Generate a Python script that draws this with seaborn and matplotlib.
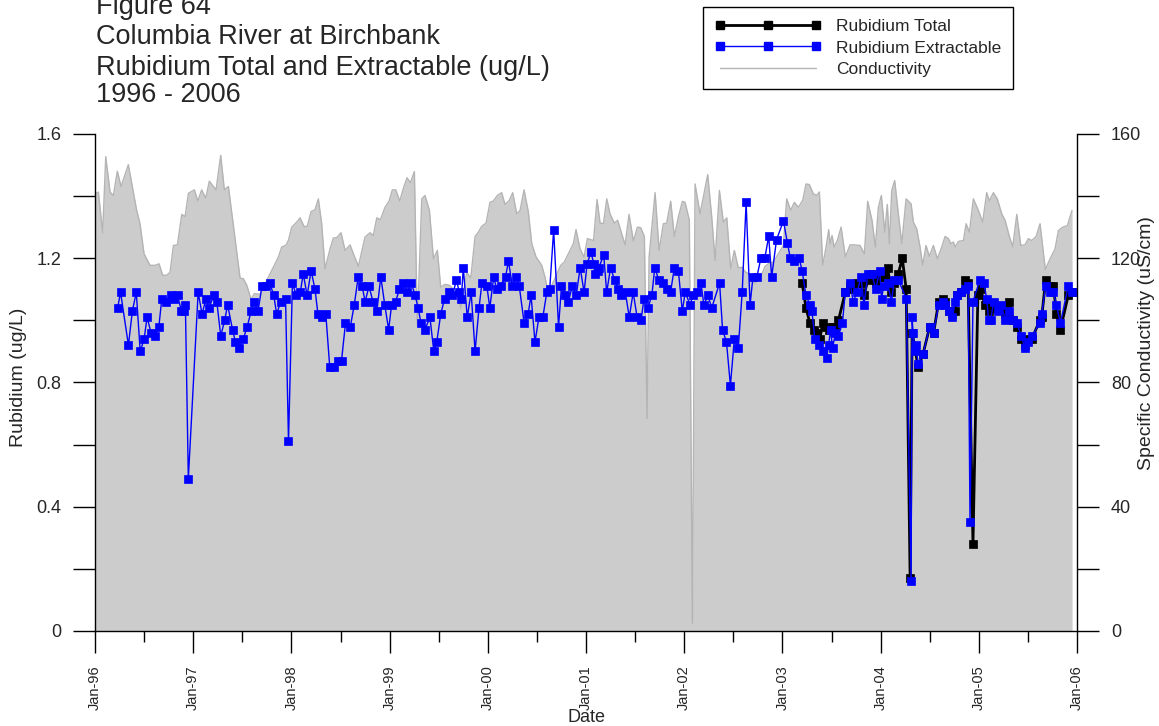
import numpy as np
import pandas as pd
from matplotlib import pyplot as plt
from matplotlib.lines import Line2D
from matplotlib.ticker import FixedLocator, FixedFormatter
import seaborn as sns

sns.set_style('ticks')
plt.rcParams['font.family'] = ['Liberation Sans', 'DejaVu Sans']

# Rubidium extractable (ug/L), sample dates as decimal years
ext_year = [1996.23, 1996.26, 1996.34, 1996.38, 1996.42, 1996.46, 1996.50, 1996.53, 1996.57, 1996.61,
            1996.65, 1996.68, 1996.72, 1996.77, 1996.80, 1996.84, 1996.88, 1996.91, 1996.92, 1996.95,
            1997.05, 1997.09, 1997.13, 1997.16, 1997.21, 1997.24, 1997.28, 1997.32, 1997.35, 1997.40,
            1997.43, 1997.47, 1997.51, 1997.55, 1997.59, 1997.62, 1997.66,
            1997.70, 1997.74, 1997.78, 1997.82, 1997.85, 1997.89, 1997.94, 1997.97, 1998.01, 1998.05,
            1998.09, 1998.12, 1998.16, 1998.20, 1998.24, 1998.27, 1998.31, 1998.35, 1998.39, 1998.43,
            1998.47, 1998.51, 1998.55, 1998.60, 1998.64, 1998.68, 1998.72, 1998.75, 1998.79, 1998.83,
            1998.87, 1998.91, 1998.95, 1998.99, 1999.02, 1999.06, 1999.10, 1999.14, 1999.18, 1999.22,
            1999.26, 1999.29, 1999.32, 1999.36,
            1999.41, 1999.45, 1999.48, 1999.52, 1999.56, 1999.60, 1999.64, 1999.68, 1999.71, 1999.73,
            1999.75, 1999.79, 1999.83, 1999.87, 1999.91, 1999.94, 1999.99, 2000.02, 2000.06, 2000.09,
            2000.13, 2000.18, 2000.21, 2000.25, 2000.29, 2000.32, 2000.37, 2000.41, 2000.44, 2000.48,
            2000.52, 2000.56, 2000.60, 2000.63, 2000.67, 2000.72, 2000.75, 2000.79, 2000.82, 2000.86,
            2000.90, 2000.94, 2000.98, 2001.01, 2001.05,
            2001.08, 2001.09, 2001.12, 2001.13, 2001.18, 2001.21, 2001.25, 2001.29, 2001.33, 2001.36,
            2001.40, 2001.44, 2001.48, 2001.52, 2001.56, 2001.59, 2001.63, 2001.67, 2001.70, 2001.74,
            2001.78, 2001.82, 2001.86, 2001.90, 2001.94, 2001.98, 2002.01, 2002.06, 2002.09, 2002.13,
            2002.17, 2002.20, 2002.24, 2002.28, 2002.36, 2002.39, 2002.43, 2002.47, 2002.51, 2002.55,
            2002.59, 2002.63, 2002.67, 2002.70,
            2002.74, 2002.78, 2002.82, 2002.86, 2002.89, 2002.94, 2003.01, 2003.05, 2003.08, 2003.12,
            2003.17, 2003.20, 2003.24, 2003.28, 2003.30, 2003.33, 2003.37, 2003.41, 2003.45, 2003.47,
            2003.49, 2003.51, 2003.54, 2003.57, 2003.61, 2003.64, 2003.69, 2003.72, 2003.76, 2003.80,
            2003.83, 2003.87, 2003.91, 2003.95, 2003.99, 2004.01, 2004.03, 2004.07, 2004.11, 2004.14,
            2004.18, 2004.26, 2004.31,
            2004.32, 2004.33, 2004.35, 2004.36, 2004.38, 2004.43, 2004.50, 2004.54, 2004.59, 2004.63,
            2004.66, 2004.70, 2004.73, 2004.76, 2004.78, 2004.82, 2004.86, 2004.89, 2004.91, 2004.94,
            2005.01, 2005.05, 2005.08, 2005.10, 2005.12, 2005.15, 2005.19, 2005.23, 2005.27, 2005.31,
            2005.35, 2005.39, 2005.43, 2005.47, 2005.50, 2005.54, 2005.62, 2005.64, 2005.68, 2005.72,
            2005.76, 2005.79, 2005.83, 2005.91, 2005.95]
ext_rb = [1.04, 1.09, 0.92, 1.03, 1.09, 0.90, 0.94, 1.01, 0.96, 0.95,
          0.98, 1.07, 1.06, 1.08, 1.07, 1.08, 1.03, 1.03, 1.05, 0.49,
          1.09, 1.02, 1.07, 1.04, 1.08, 1.06, 0.95, 1.00, 1.05, 0.97,
          0.93, 0.91, 0.94, 0.98, 1.03, 1.06, 1.03,
          1.11, 1.11, 1.12, 1.08, 1.02, 1.06, 1.07, 0.61, 1.12, 1.08,
          1.09, 1.15, 1.08, 1.16, 1.10, 1.02, 1.01, 1.02, 0.85, 0.85,
          0.87, 0.87, 0.99, 0.98, 1.05, 1.14, 1.11, 1.06, 1.11, 1.06,
          1.03, 1.14, 1.05, 0.97, 1.05, 1.06, 1.10, 1.12, 1.09, 1.12,
          1.08, 1.04, 0.99, 0.97,
          1.01, 0.90, 0.93, 1.02, 1.07, 1.09, 1.08, 1.13, 1.09, 1.07,
          1.17, 1.01, 1.09, 0.90, 1.04, 1.12, 1.11, 1.04, 1.14, 1.10,
          1.11, 1.14, 1.19, 1.11, 1.14, 1.11, 0.99, 1.02, 1.08, 0.93,
          1.01, 1.01, 1.09, 1.10, 1.29, 0.98, 1.11, 1.08, 1.06, 1.11,
          1.08, 1.17, 1.09, 1.18, 1.22,
          1.18, 1.15, 1.16, 1.17, 1.21, 1.09, 1.17, 1.13, 1.10, 1.08,
          1.09, 1.01, 1.09, 1.01, 1.00, 1.07, 1.04, 1.08, 1.17, 1.13,
          1.12, 1.10, 1.09, 1.17, 1.16, 1.03, 1.09, 1.05, 1.08, 1.09,
          1.12, 1.05, 1.08, 1.04, 1.12, 0.97, 0.93, 0.79, 0.94, 0.91,
          1.09, 1.38, 1.05, 1.14,
          1.14, 1.20, 1.20, 1.27, 1.14, 1.26, 1.32, 1.25, 1.20, 1.19,
          1.20, 1.16, 1.08, 1.05, 1.03, 0.94, 0.92, 0.90, 0.88, 0.92,
          0.97, 0.91, 0.96, 0.95, 0.99, 1.09, 1.12, 1.06, 1.09, 1.14,
          1.05, 1.15, 1.15, 1.10, 1.16, 1.07, 1.11, 1.12, 1.06, 1.13,
          1.13, 1.07, 0.16,
          1.01, 0.96, 0.90, 0.92, 0.86, 0.89, 0.98, 0.96, 1.05, 1.06,
          1.05, 1.03, 1.01, 1.06, 1.08, 1.09, 1.10, 1.11, 0.35, 1.06,
          1.13, 1.12, 1.07, 1.00, 1.00, 1.06, 1.03, 1.05, 1.00, 1.03,
          1.00, 0.99, 0.95, 0.91, 0.93, 0.95, 0.99, 1.02, 1.11, 1.09,
          1.09, 1.05, 0.99, 1.11, 1.09]

# Rubidium total (ug/L), from 2003
tot_year = [2003.20, 2003.24, 2003.28, 2003.32, 2003.35, 2003.38, 2003.41, 2003.44, 2003.47, 2003.51,
            2003.54, 2003.57, 2003.64, 2003.69, 2003.72, 2003.76, 2003.80, 2003.83, 2003.87, 2003.91,
            2003.95, 2003.99, 2004.03, 2004.07, 2004.11, 2004.14, 2004.18, 2004.22, 2004.26, 2004.30,
            2004.32, 2004.35, 2004.38, 2004.43, 2004.50, 2004.54, 2004.59, 2004.63, 2004.66, 2004.70,
            2004.73, 2004.76, 2004.78, 2004.82, 2004.86, 2004.89, 2004.94, 2004.99, 2005.02, 2005.06,
            2005.10, 2005.13, 2005.19, 2005.23, 2005.27, 2005.31, 2005.35, 2005.39, 2005.43, 2005.47,
            2005.50, 2005.54, 2005.62, 2005.64, 2005.68, 2005.72, 2005.76, 2005.79, 2005.83, 2005.91,
            2005.95]
tot_rb = [1.12, 1.04, 0.99, 0.97, 0.96, 0.94, 0.99, 0.98, 0.97, 0.98,
          0.98, 1.00, 1.09, 1.11, 1.10, 1.12, 1.12, 1.08, 1.13, 1.15,
          1.12, 1.14, 1.14, 1.17, 1.09, 1.12, 1.15, 1.20, 1.10, 0.17,
          0.96, 0.91, 0.85, 0.89, 0.98, 0.96, 1.06, 1.07, 1.06, 1.03,
          1.02, 1.03, 1.08, 1.09, 1.13, 1.12, 0.28, 1.08, 1.10, 1.05,
          1.03, 1.04, 1.04, 1.04, 1.02, 1.06, 1.00, 0.98, 0.94, 0.92,
          0.94, 0.94, 1.00, 1.01, 1.13, 1.11, 1.11, 1.02, 0.97, 1.08,
          1.09]

# Specific conductivity (uS/cm)
cond_year = [1996.000, 1996.034, 1996.078, 1996.109, 1996.153, 1996.187, 1996.227, 1996.265, 1996.339, 1996.424,
             1996.458, 1996.499, 1996.560, 1996.611, 1996.652, 1996.689, 1996.730, 1996.764, 1996.798, 1996.839,
             1996.883, 1996.917, 1996.951, 1997.012, 1997.046, 1997.086, 1997.127, 1997.164, 1997.232, 1997.280,
             1997.317, 1997.358, 1997.477, 1997.510, 1997.545, 1997.589, 1997.622, 1997.680, 1997.782, 1997.816,
             1997.867, 1997.901, 1997.942, 1997.969, 1998.003, 1998.054, 1998.088, 1998.128, 1998.162, 1998.200,
             1998.240, 1998.274, 1998.308, 1998.342, 1998.393, 1998.427, 1998.461, 1998.505, 1998.546, 1998.597,
             1998.631, 1998.682, 1998.749, 1998.800, 1998.834, 1998.869, 1998.906, 1998.953, 1998.994, 1999.028,
             1999.062, 1999.103, 1999.140, 1999.177, 1999.211, 1999.252, 1999.282, 1999.327, 1999.360, 1999.405,
             1999.446, 1999.486, 1999.520, 1999.564, 1999.608, 1999.649, 1999.690, 1999.724, 1999.785, 1999.826,
             1999.870, 1999.904, 1999.938, 1999.982, 2000.022, 2000.056, 2000.097, 2000.141, 2000.175, 2000.219,
             2000.253, 2000.294, 2000.328, 2000.369, 2000.413, 2000.447, 2000.491, 2000.549, 2000.582, 2000.610,
             2000.644, 2000.742, 2000.779, 2000.820, 2000.871, 2000.898, 2000.939, 2000.980, 2001.014, 2001.076,
             2001.112, 2001.143, 2001.177, 2001.211, 2001.244, 2001.288, 2001.322, 2001.363, 2001.397, 2001.438,
             2001.482, 2001.523, 2001.557, 2001.594, 2001.621, 2001.642, 2001.703, 2001.744, 2001.787, 2001.821,
             2001.862, 2001.899, 2001.940, 2001.981, 2002.008, 2002.052, 2002.083, 2002.110, 2002.161, 2002.239,
             2002.280, 2002.314, 2002.358, 2002.398, 2002.433, 2002.473, 2002.510, 2002.551, 2002.585, 2002.626,
             2002.667, 2002.721, 2002.772, 2002.823, 2002.857, 2002.908, 2002.958, 2003.009, 2003.043, 2003.084,
             2003.121, 2003.162, 2003.206, 2003.240, 2003.274, 2003.315, 2003.349, 2003.376, 2003.410, 2003.444,
             2003.471, 2003.485, 2003.505, 2003.526, 2003.559, 2003.597, 2003.641, 2003.688, 2003.729, 2003.790,
             2003.834, 2003.868, 2003.912, 2003.946, 2003.977, 2004.007, 2004.042, 2004.068, 2004.089, 2004.113,
             2004.143, 2004.180, 2004.215, 2004.259, 2004.310, 2004.333, 2004.367, 2004.401, 2004.428, 2004.462,
             2004.496, 2004.537, 2004.578, 2004.622, 2004.656, 2004.690, 2004.714, 2004.741, 2004.758, 2004.792,
             2004.843, 2004.870, 2004.904, 2004.944, 2004.995, 2005.039, 2005.080, 2005.107, 2005.148, 2005.188,
             2005.233, 2005.267, 2005.311, 2005.345, 2005.386, 2005.427, 2005.470, 2005.504, 2005.539, 2005.583,
             2005.623, 2005.677, 2005.725, 2005.776, 2005.810, 2005.854, 2005.901, 2005.949]
cond = [140.7, 141.3, 128.2, 152.7, 141.3, 140.2, 148.0, 143.1, 150.1, 135.4,
        131.1, 121.4, 117.7, 117.7, 118.2, 114.5, 114.5, 115.5, 124.1, 124.3,
        134.1, 133.4, 140.9, 142.0, 138.4, 142.0, 139.3, 144.8, 142.0, 153.1,
        142.0, 143.1, 113.6, 113.4, 111.3, 106.8, 108.6, 108.4, 115.0, 117.1,
        120.4, 123.6, 124.1, 125.7, 130.0, 131.6, 133.0, 130.2, 130.3, 135.0,
        135.6, 139.1, 131.1, 116.6, 123.0, 126.5, 126.6, 128.2, 122.5, 124.3,
        121.4, 117.4, 126.8, 128.2, 127.3, 133.0, 132.4, 136.4, 138.4, 142.0,
        142.0, 138.4, 142.5, 145.9, 144.3, 147.9, 98.4, 139.1, 140.2, 135.4,
        119.8, 122.5, 110.7, 111.6, 111.3, 110.0, 108.6, 103.8, 115.5, 113.6,
        127.0, 128.4, 130.3, 131.3, 138.0, 138.4, 140.2, 141.1, 137.3, 138.6,
        141.1, 134.3, 135.4, 142.0, 134.8, 124.7, 120.4, 117.7, 113.9, 109.6,
        110.7, 117.7, 118.8, 121.4, 124.7, 129.2, 123.0, 120.4, 126.3, 125.7,
        138.9, 131.3, 131.1, 139.1, 134.3, 131.3, 132.2, 127.9, 124.3, 134.1,
        125.5, 130.0, 129.8, 127.0, 68.4, 120.4, 141.1, 122.5, 131.1, 131.3,
        138.3, 127.0, 133.2, 138.3, 138.0, 132.2, 2.5, 143.9, 134.3, 146.9,
        133.2, 119.3, 141.8, 131.6, 133.0, 116.6, 122.5, 116.9, 117.1, 115.5,
        114.8, 111.8, 113.4, 117.4, 118.2, 118.8, 121.4, 124.1, 139.1, 135.4,
        138.0, 136.4, 138.6, 143.9, 143.7, 140.7, 140.2, 141.3, 117.7, 123.6,
        129.2, 124.7, 127.3, 123.6, 125.7, 130.0, 120.4, 124.3, 124.3, 124.1,
        121.4, 138.3, 132.2, 123.6, 136.4, 140.2, 128.4, 137.3, 124.7, 141.8,
        145.0, 134.3, 124.7, 139.1, 137.5, 131.6, 129.5, 123.6, 117.7, 124.1,
        120.6, 124.1, 119.8, 123.6, 127.0, 126.3, 124.7, 125.2, 123.6, 125.4,
        125.7, 131.1, 128.4, 139.1, 135.4, 131.6, 141.1, 138.4, 141.1, 139.1,
        134.3, 132.2, 127.0, 123.6, 134.1, 124.1, 124.3, 126.3, 125.7, 127.0,
        131.1, 116.3, 119.8, 123.0, 128.9, 130.0, 130.5, 135.4]

year_ticks = list(range(1996, 2007))
year_labels = ['Jan-96', 'Jan-97', 'Jan-98', 'Jan-99', 'Jan-00', 'Jan-01',
               'Jan-02', 'Jan-03', 'Jan-04', 'Jan-05', 'Jan-06']
rb_ticks = [0, 0.4, 0.8, 1.2, 1.6]
rb_labels = ['0', '0.4', '0.8', '1.2', '1.6']
cond_ticks = [0, 40, 80, 120, 160]

ext = pd.DataFrame({'year': ext_year, 'rb': ext_rb})
tot = pd.DataFrame({'year': tot_year, 'rb': tot_rb})
cond_df = pd.DataFrame({'year': cond_year, 'cond': cond})

fig = plt.figure(figsize=(11.59, 7.26), dpi=100)
ax = fig.add_axes([0.0820, 0.1309, 0.8473, 0.6846])
ax2 = ax.twinx()

# conductivity as a filled background on the right axis
ax2.fill_between(cond_df['year'], cond_df['cond'], color='#cccccc', lw=0)
sns.lineplot(data=cond_df, x='year', y='cond', ax=ax2, color='#b4b4b4', lw=1,
             estimator=None, sort=False)
ax.set_zorder(ax2.get_zorder() + 1)
ax.patch.set_visible(False)

sns.lineplot(data=tot, x='year', y='rb', ax=ax, color='black', lw=2, marker='s',
             markersize=5.5, markeredgecolor='black', markeredgewidth=0.5,
             estimator=None, sort=False)
sns.lineplot(data=ext, x='year', y='rb', ax=ax, color='#0000ff', lw=1, marker='s',
             markersize=5.5, markeredgecolor='#0000ff', markeredgewidth=0.5,
             estimator=None, sort=False)

ax.set_xlim(1996, 2006)
ax.set_ylim(0, 1.6)
ax2.set_ylim(0, 160)

ax.xaxis.set_major_locator(FixedLocator(year_ticks))
ax.xaxis.set_major_formatter(FixedFormatter(year_labels))
ax.xaxis.set_minor_locator(FixedLocator([y + 0.5 for y in year_ticks[:-1]]))
ax.yaxis.set_major_locator(FixedLocator(rb_ticks))
ax.yaxis.set_major_formatter(FixedFormatter(rb_labels))
ax.yaxis.set_minor_locator(FixedLocator([0.2, 0.6, 1.0, 1.4]))
ax2.yaxis.set_major_locator(FixedLocator(cond_ticks))
ax2.yaxis.set_minor_locator(FixedLocator([20, 60, 100, 140]))

ax.tick_params(axis='x', which='major', length=16, width=1, pad=8.5, labelsize=10.5,
               labelrotation=90, direction='out', color='black')
ax.tick_params(axis='x', which='minor', length=8, width=1, direction='out', color='black')
ax.tick_params(axis='y', which='both', length=16, width=1, pad=8, labelsize=13,
               direction='out', color='black')
ax2.tick_params(axis='y', which='both', length=16, width=1, pad=8.5, labelsize=13,
                direction='out', color='black')

for s in ['top', 'right']:
    ax.spines[s].set_visible(False)
for s in ['top', 'left', 'bottom']:
    ax2.spines[s].set_visible(False)
for sp in [ax.spines['left'], ax.spines['bottom'], ax2.spines['right']]:
    sp.set_color('black')
    sp.set_linewidth(1)

ax.set_xlabel('Date', fontsize=13)
ax.xaxis.set_label_coords(0.5, -0.157)
ax.set_ylabel('Rubidium (ug/L)', fontsize=14)
ax.yaxis.set_label_coords(-0.069, 0.51)
ax2.set_ylabel('Specific Conductivity (uS/cm)', fontsize=14)
ax2.yaxis.set_label_coords(1.062, 0.58)

title_lines = ['Figure 64', 'Columbia River at Birchbank',
               'Rubidium Total and Extractable (ug/L)', '1996 - 2006']
for line, base in zip(title_lines, [14, 44.5, 75, 101.5]):
    fig.text(96.5 / 1159, 1 - base / 726, line, fontsize=19.5, va='baseline', ha='left')

handles = [
    Line2D([], [], color='black', lw=2, marker='s', markersize=5.5),
    Line2D([], [], color='#0000ff', lw=1, marker='s', markersize=5.5),
    Line2D([], [], color='#b4b4b4', lw=1),
]
leg = fig.legend(handles, ['Rubidium Total', 'Rubidium Extractable', 'Conductivity'],
                 loc='upper left', bbox_to_anchor=(703 / 1159, 1 - 7 / 726),
                 fontsize=12.5, numpoints=3, handlelength=6.1, handletextpad=0.85,
                 labelspacing=0.35, borderpad=0.7, fancybox=False, framealpha=1,
                 borderaxespad=0)
leg.get_frame().set_edgecolor('black')
leg.get_frame().set_linewidth(1)

fig.savefig('out.png', dpi=100)
